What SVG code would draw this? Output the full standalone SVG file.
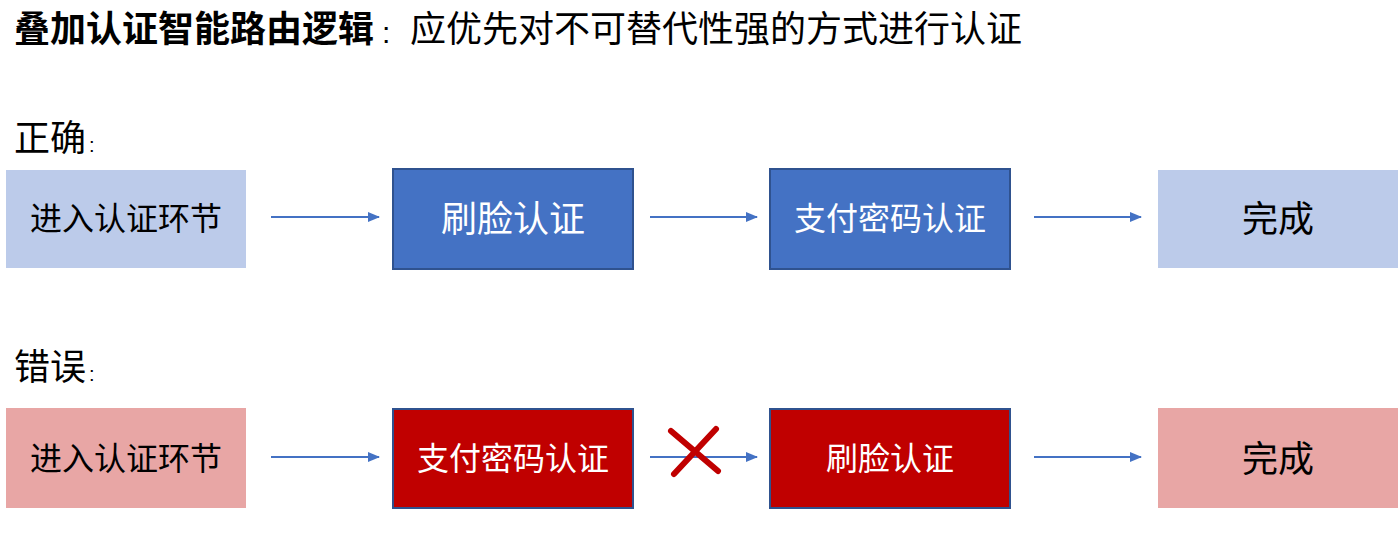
<svg xmlns="http://www.w3.org/2000/svg" width="1398" height="544" viewBox="0 0 1398 544">
<style>
text{font-family:"Noto Sans CJK SC","Liberation Sans",sans-serif;}
.t{font-size:36px;fill:#000;}
.colon{font-family:"Liberation Sans",sans-serif;}
.lt{fill:#BCCBEA;}
.lr{fill:#E8A6A5;}
.db{fill:#4472C4;stroke:#2F528F;stroke-width:2;}
.dr{fill:#C00000;stroke:#2F528F;stroke-width:2;}
.lbl{text-anchor:middle;dominant-baseline:central;}
.conn line{stroke:#4472C4;stroke-width:2;marker-end:url(#ah);}
</style>
<defs>
<marker id="ah" markerWidth="12" markerHeight="10" refX="11" refY="5" orient="auto" markerUnits="userSpaceOnUse">
<path d="M0,0 L12,5 L0,10 Z" fill="#4472C4"/>
</marker>
</defs>
<rect width="1398" height="544" fill="#fff"/>
<text class="t" x="14" y="42" font-weight="bold">叠加认证智能路由逻辑</text>
<text class="colon" x="382" y="43" font-size="30">:</text>
<text class="t" x="410" y="42">应优先对不可替代性强的方式进行认证</text>
<text class="t" x="14" y="151">正确</text>
<text class="colon" x="89" y="152" font-size="20">:</text>
<text class="t" x="14" y="380">错误</text>
<text class="colon" x="89" y="381" font-size="20">:</text>

<g id="r1-start"><rect class="lt" x="6" y="170" width="240" height="98"/><text class="lbl" x="126" y="216" font-size="32">进入认证环节</text></g>
<g id="r1-face"><rect class="db" x="393" y="169" width="240" height="100"/><text class="lbl" x="513" y="216" font-size="36" fill="#fff">刷脸认证</text></g>
<g id="r1-pwd"><rect class="db" x="770" y="169" width="240" height="100"/><text class="lbl" x="890" y="216" font-size="32" fill="#fff">支付密码认证</text></g>
<g id="r1-done"><rect class="lt" x="1158" y="170" width="240" height="98"/><text class="lbl" x="1278" y="216" font-size="36">完成</text></g>

<g id="r2-start"><rect class="lr" x="6" y="408" width="240" height="100"/><text class="lbl" x="126" y="456" font-size="32">进入认证环节</text></g>
<g id="r2-pwd"><rect class="dr" x="393" y="409" width="240" height="99"/><text class="lbl" x="513" y="456" font-size="32" fill="#fff">支付密码认证</text></g>
<g id="r2-face"><rect class="dr" x="770" y="409" width="240" height="99"/><text class="lbl" x="890" y="456" font-size="32" fill="#fff">刷脸认证</text></g>
<g id="r2-done"><rect class="lr" x="1158" y="408" width="240" height="100"/><text class="lbl" x="1278" y="456" font-size="36">完成</text></g>

<g class="conn" id="connectors">
<line x1="271" y1="217" x2="379" y2="217"/>
<line x1="650" y1="217" x2="757" y2="217"/>
<line x1="1034" y1="217" x2="1141" y2="217"/>
<line x1="271" y1="457" x2="379" y2="457"/>
<line x1="650" y1="457" x2="757" y2="457"/>
<line x1="1034" y1="457" x2="1141" y2="457"/>
</g>
<g id="cross" stroke="#C00000" stroke-width="6" stroke-linecap="round">
<line x1="671" y1="431" x2="718" y2="471"/>
<line x1="716" y1="429" x2="674" y2="474"/>
</g>
</svg>
